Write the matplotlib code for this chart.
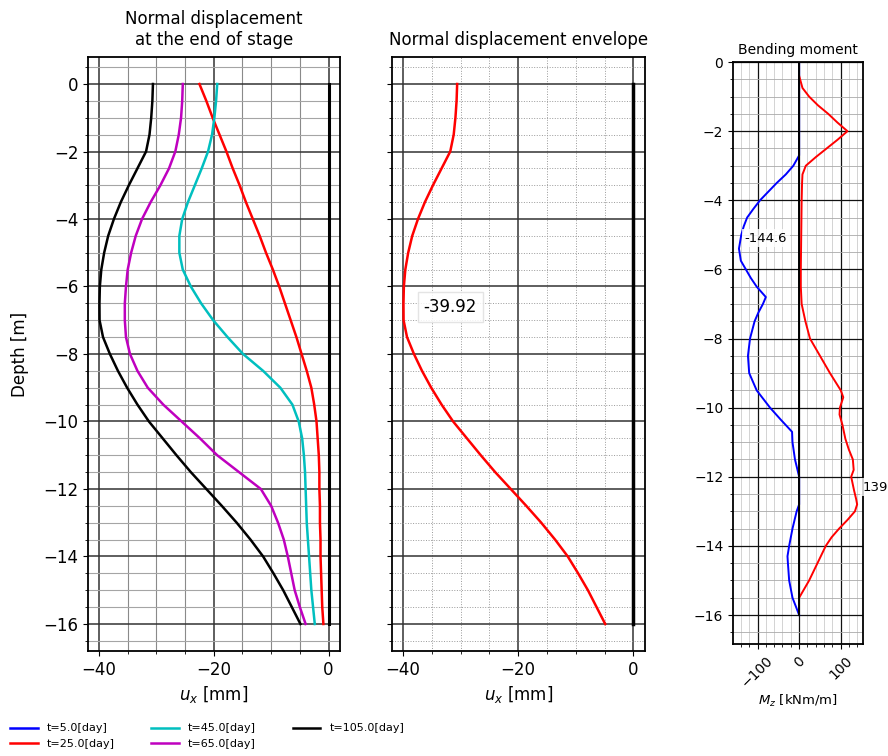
import numpy as np
import matplotlib
matplotlib.use('Agg')
import matplotlib.pyplot as plt
from matplotlib.ticker import MultipleLocator

# depth for the displacement curves [m]
depth = [0, -0.5, -1, -1.5, -2, -2.5, -3, -3.5, -4, -4.5, -5, -5.5, -6, -6.5, -7, -7.5,
         -8, -8.5, -9, -9.5, -10, -10.5, -11, -11.5, -12, -12.5, -13, -13.5, -14, -14.5,
         -15, -15.5, -16]

# normal displacement u_x [mm] at the end of each stage
ux_t5 = [0.0, 0.0, 0.0, 0.0, 0.0, 0.0, 0.0, 0.0, 0.0, 0.0, 0.0, 0.0, 0.0, 0.0, 0.0, 0.0,
         0.0, 0.0, 0.0, 0.0, 0.0, 0.0, 0.0, 0.0, 0.0, 0.0, 0.0, 0.0, 0.0, 0.0, 0.0, 0.0, 0.0]
ux_t25 = [-22.5, -21.3, -20.2, -19.0, -17.8, -16.7, -15.5, -14.4, -13.2, -12.0, -10.9,
          -9.7, -8.6, -7.6, -6.6, -5.6, -4.7, -3.8, -3.0, -2.5, -2.1, -1.9, -1.7, -1.6,
          -1.6, -1.5, -1.5, -1.4, -1.4, -1.3, -1.2, -1.1, -0.9]
ux_t45 = [-19.4, -19.6, -19.9, -20.3, -21.0, -22.1, -23.3, -24.5, -25.5, -26.0, -26.0,
          -25.4, -24.0, -22.2, -20.1, -17.6, -14.9, -11.4, -8.4, -6.3, -5.2, -4.6, -4.3,
          -4.1, -4.0, -3.9, -3.8, -3.6, -3.4, -3.2, -3.0, -2.7, -2.4]
ux_t65 = [-25.4, -25.5, -25.7, -26.1, -26.7, -27.8, -29.3, -31.0, -32.5, -33.6, -34.4,
          -35.0, -35.3, -35.5, -35.5, -35.3, -34.6, -33.3, -31.5, -28.8, -25.6, -22.4,
          -19.4, -15.6, -11.8, -10.0, -8.8, -7.8, -7.1, -6.5, -5.9, -5.0, -4.0]
ux_t105 = [-30.6, -30.7, -30.9, -31.2, -31.8, -33.3, -34.8, -36.2, -37.4, -38.4, -39.1,
           -39.6, -39.85, -39.92, -39.9, -39.3, -38.1, -36.7, -35.1, -33.3, -31.3, -28.9,
           -26.5, -24.0, -21.3, -18.6, -16.0, -13.6, -11.4, -9.6, -7.9, -6.4, -4.9]

stages = ['t=5.0[day]', 't=25.0[day]', 't=45.0[day]', 't=65.0[day]', 't=105.0[day]']
stage_colors = ['b', 'r', 'c', 'm', 'k']

# bending moment envelope [kNm/m]
depth_mmax = [-0.4, -0.75, -1.0, -1.25, -1.5, -1.75, -2.0, -2.25, -2.5, -2.75, -3.0, -3.25,
              -3.5, -4.0, -5.0, -6.0, -6.5, -7.0, -7.5, -8.0, -8.5, -9.0, -9.5, -9.7, -10.0,
              -10.2, -10.5, -10.9, -11.2, -11.5, -11.8, -12.0, -12.4, -12.65, -12.8, -13.0,
              -13.25, -13.5, -13.75, -14.0, -14.5, -15.0, -15.5]
m_max = [0, 8, 24, 45, 70, 92, 116, 92, 66, 40, 16, 8, 7, 6, 5, 4, 4, 6, 15, 26, 50, 74,
         100, 106, 98, 97, 104, 111, 119, 129, 131, 125, 132, 137, 139.3, 134, 116, 96, 78,
         64, 44, 24, 0]

depth_mmin = [0, -2.7, -3.0, -3.25, -3.5, -3.75, -4.0, -4.25, -4.5, -4.75, -5.0, -5.4,
              -5.75, -6.0, -6.25, -6.5, -6.8, -7.0, -7.25, -7.5, -8.0, -8.5, -9.0, -9.5,
              -10.0, -10.35, -10.7, -11.0, -11.5, -12.0, -12.8, -13.0, -13.5, -14.0, -14.3,
              -14.5, -15.0, -15.5, -16.0]
m_min = [0, 0, -14, -32, -54, -74, -94, -110, -125, -133, -139, -144.6, -140, -128, -116,
         -102, -80, -87, -98, -107, -118, -123, -120, -102, -70, -44, -17, -16, -10, 0, 0,
         -6, -16, -24, -28, -27, -24, -16, 0]

ux_all = np.array([ux_t5, ux_t25, ux_t45, ux_t65, ux_t105])
ux_env = ux_all.min(axis=0)

fig = plt.figure(figsize=(8.88, 7.56), dpi=100)
ax1 = fig.add_axes([0.0991, 0.1389, 0.2838, 0.7857])
ax2 = fig.add_axes([0.4414, 0.1389, 0.2849, 0.7857], sharey=ax1)
ax3 = fig.add_axes([0.8255, 0.1481, 0.1464, 0.7698])

# --- panel 1: displacement per stage
for ux, lab, col in zip(ux_all, stages, stage_colors):
    ax1.plot(ux, depth, color=col, lw=1.8, label=lab)
ax1.plot([0, 0], [depth[0], depth[-1]], color='k', lw=2.2)
ax1.set_title('Normal displacement\nat the end of stage', fontsize=12, pad=9)
ax1.set_xlabel('$u_x$ [mm]', fontsize=12)
ax1.set_ylabel('Depth [m]', fontsize=12, labelpad=10)
ax1.xaxis.set_major_locator(MultipleLocator(20))
ax1.xaxis.set_minor_locator(MultipleLocator(5))
ax1.yaxis.set_major_locator(MultipleLocator(2))
ax1.yaxis.set_minor_locator(MultipleLocator(0.5))
ax1.tick_params(labelsize=12)
ax1.grid(which='major', color='#333333', lw=1.1)
ax1.grid(which='minor', axis='x', color='#8a8a8a', lw=0.8)
ax1.grid(which='minor', axis='y', color='#a5a5a5', lw=0.8)

# --- panel 2: envelope
ax2.plot(ux_env, depth, color='r', lw=1.8)
ax2.plot([0, 0], [depth[0], depth[-1]], color='k', lw=2.5)
ax2.set_title('Normal displacement envelope', fontsize=12, pad=9)
ax2.set_xlabel('$u_x$ [mm]', fontsize=12)
ax2.xaxis.set_major_locator(MultipleLocator(20))
ax2.xaxis.set_minor_locator(MultipleLocator(5))
ax2.tick_params(labelsize=12)
ax2.tick_params(axis='y', labelleft=False)
ax2.grid(which='major', color='#333333', lw=1.1)
ax2.grid(which='minor', color='#999999', lw=0.7, ls=':')
i_min = int(np.argmin(ux_env))
ax2.text(ux_env[i_min] + 3.5, depth[i_min] - 0.1, f'{ux_env[i_min]:.2f}', fontsize=12,
         va='center', ha='left',
         bbox=dict(boxstyle='square,pad=0.35', fc='white', ec='#e0e0e0', alpha=0.85))

# --- panel 3: bending moment envelope
ax3.plot(m_min, depth_mmin, color='b', lw=1.4)
ax3.plot(m_max, depth_mmax, color='r', lw=1.4)
ax3.plot([0, 0], [0, -16], color='k', lw=1.4)
ax3.set_ylim(-16.84, 0)
ax3.set_title('Bending moment', fontsize=10, pad=6)
ax3.set_xlabel('$M_z$ [kNm/m]', fontsize=9.5, labelpad=2)
ax3.xaxis.set_major_locator(MultipleLocator(100))
ax3.xaxis.set_minor_locator(MultipleLocator(20))
ax3.yaxis.set_major_locator(MultipleLocator(2))
ax3.yaxis.set_minor_locator(MultipleLocator(0.5))
ax3.tick_params(labelsize=10)
ax3.tick_params(axis='x', labelrotation=45)
ax3.grid(which='major', color='#111111', lw=0.9)
ax3.grid(which='minor', axis='x', color='#cccccc', lw=0.6)
ax3.grid(which='minor', axis='y', color='#aaaaaa', lw=0.6)
j_min = int(np.argmin(m_min))
j_max = int(np.argmax(m_max))
ax3.text(m_min[j_min] + 14, depth_mmin[j_min] + 0.3, f'{m_min[j_min]:.1f}', fontsize=9.5,
         va='center', ha='left',
         bbox=dict(boxstyle='square,pad=0.2', fc='white', ec='none', alpha=0.8))
# the reference figure is cropped through this label at the right edge
ax3.text(m_max[j_max] + 13, depth_mmax[j_max] + 0.5, f'{m_max[j_max]:.1f}', fontsize=9.5,
         va='center', ha='left', clip_on=False,
         bbox=dict(boxstyle='square,pad=0.2', fc='white', ec='none', alpha=0.8))

for ax in (ax1, ax2, ax3):
    for sp in ax.spines.values():
        sp.set_linewidth(1.3)

handles, labels = ax1.get_legend_handles_labels()
fig.legend(handles, labels, loc='lower left', bbox_to_anchor=(0.0, -0.004), ncol=3,
           fontsize=8, frameon=False, handlelength=2.5, columnspacing=3.3,
           labelspacing=0.5)

fig.savefig('out.png', dpi=100)
